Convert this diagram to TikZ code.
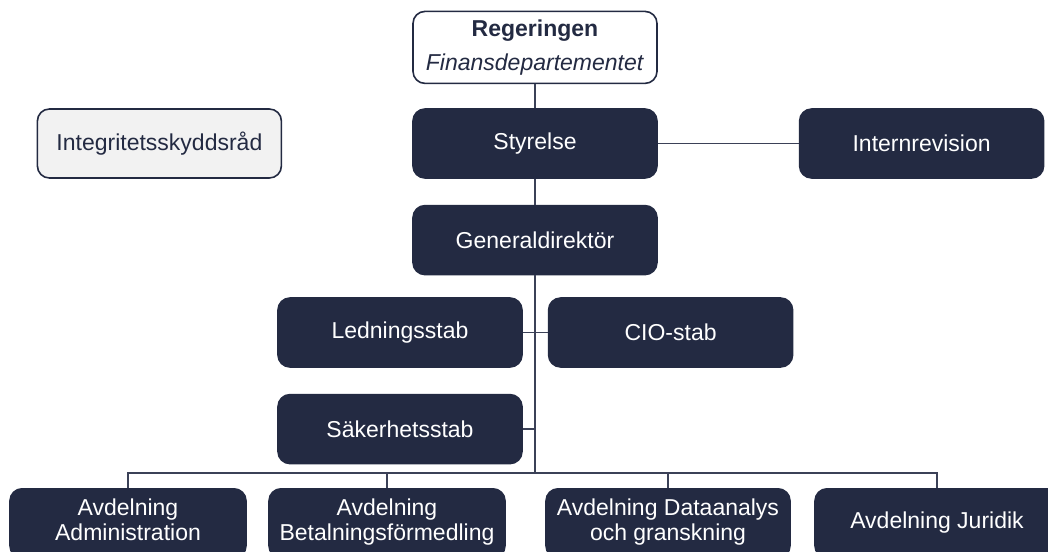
\documentclass[tikz,border=0pt]{standalone}
\usepackage{fontspec}
\setmainfont{Liberation Sans}
\usetikzlibrary{positioning}

\definecolor{navy}{HTML}{232A42}
\definecolor{linegrey}{HTML}{3B4157}
\definecolor{paleGrey}{HTML}{F2F2F2}

\begin{document}
\begin{tikzpicture}[x=1pt, y=-1pt, line width=1.6pt,
    node distance=12pt,
    every node/.style={font=\fontsize{23}{23}\selectfont, align=center, inner sep=2pt},
    unit/.style={fill=navy, draw=navy, text=white, rounded corners=12pt,
        minimum width=244pt, minimum height=69pt},
    outside/.style={unit, fill=paleGrey, text=navy},
    top/.style={unit, fill=white, text=navy, minimum height=72pt,
        font=\fontsize{23}{34}\selectfont},
    link/.style={draw=linegrey, line width=1.6pt}]
\useasboundingbox (0,0) rectangle (1048,551);

\node[unit] (styr) at (535,143.5) {Styrelse};
\node[top, above=24pt of styr] (reg) {\textbf{Regeringen}\\\textit{Finansdepartementet}};
\node[outside, left=130pt of styr] (integ) {Integritetsskyddsråd};
\node[unit, right=141pt of styr] (intern) {Internrevision};
\node[unit, below=26pt of styr] (gd) {Generaldirektör};

\node[unit] (ledn) at (400,332.5) {Ledningsstab};
\node[unit, right=25pt of ledn] (cio) {CIO-stab};
\node[unit, below=26pt of ledn] (sak) {Säkerhetsstab};

% avdelningar
\node[unit, anchor=north, minimum width=236pt] (adm) at (128,488) {\strut Avdelning\\\strut Administration};
\node[unit, anchor=north, minimum width=236pt] (bet) at (387,488) {\strut Avdelning\\\strut Betalningsförmedling};
\node[unit, anchor=north] (dat) at (668,488) {\strut Avdelning Dataanalys\\\strut och granskning};
\node[unit, anchor=north] (jur) at (937,488) {\strut Avdelning Juridik};

\coordinate (bar) at (535,473);

\path[link] (reg) -- (styr)
    (styr) -- (gd)
    (styr) -- (intern)
    (gd) -- (bar)
    (ledn) -- (ledn -| bar)
    (cio) -- (cio -| bar)
    (sak) -- (sak -| bar)
    (adm) |- (bar) -| (jur)
    (bet) -- (bet.north |- bar)
    (dat) -- (dat.north |- bar);
\end{tikzpicture}
\end{document}
